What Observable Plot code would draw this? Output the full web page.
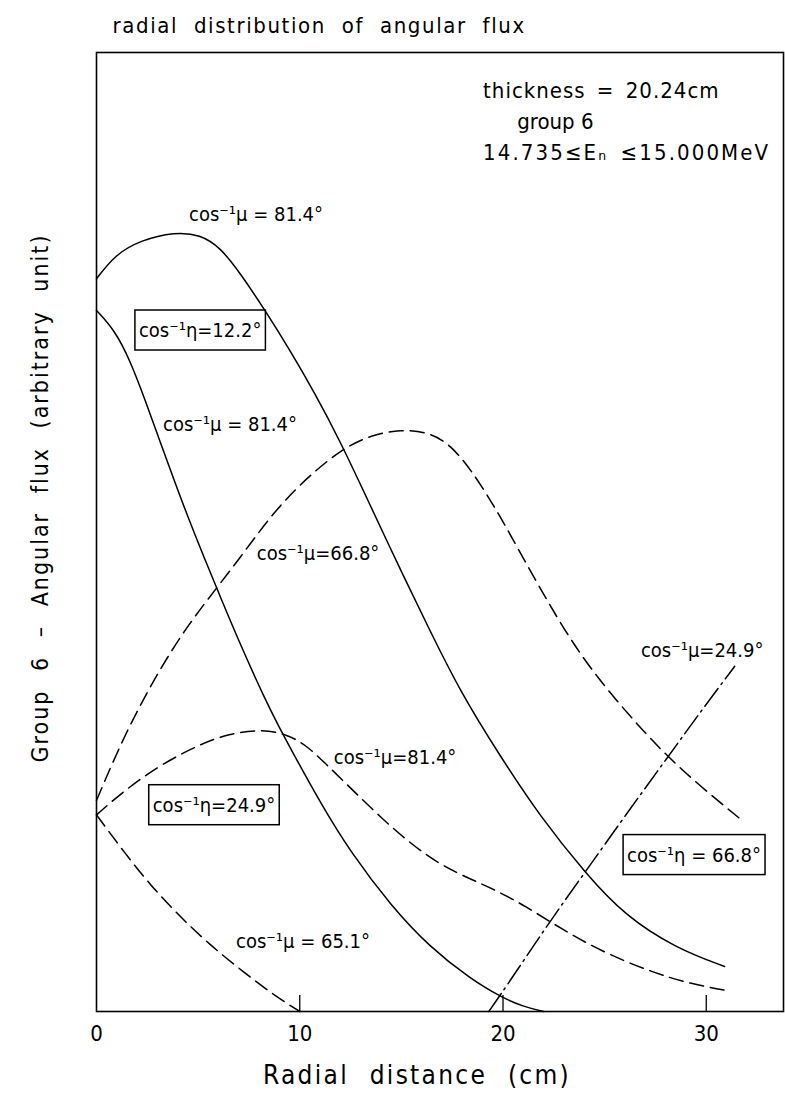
<!DOCTYPE html>
<html><head><meta charset="utf-8">
<script src="https://cdn.jsdelivr.net/npm/d3@7"></script>
<script src="https://cdn.jsdelivr.net/npm/@observablehq/plot@0.6"></script>
<style>body{margin:0;background:#fff;}</style>
</head><body><div id="chart"></div>
<script>
const FONT = "'Liberation Sans Narrow','DejaVu Sans Condensed','DejaVu Sans',sans-serif";

// axis ticks
const xTicks = [0, 10, 20, 30];
const xTickLabels = ["0", "10", "20", "30"];
const titleText = "radial distribution of angular flux";
const xLabelText = "Radial distance (cm)";
const yLabelText = "Group 6 – Angular flux (arbitrary unit)";

// solid, top: cos-1 mu = 81.4 (eta 12.2)
const curveA_x = [0, 0.91, 2.14, 3.87, 5.1, 6.08, 7.07, 8.3, 9.53, 10.76, 12.0, 13.2, 14.3, 15.2, 16.2, 17.9, 19.9, 21.8, 24.1, 26.0, 28.5, 30.9];
const curveA_y = [76.4, 78.9, 80.4, 81.3, 81.0, 79.7, 77.0, 73.1, 68.9, 64.4, 59.4, 54.0, 49.0, 45.0, 40.6, 33.3, 26.5, 20.4, 14.3, 10.0, 6.6, 4.7];
// solid, second: cos-1 mu = 81.4
const curveB_x = [0, 0.91, 1.65, 2.39, 3.13, 3.87, 4.6, 5.34, 6.08, 7.07, 8.3, 9.0, 9.53, 11.0, 12.5, 14.5, 16.4, 18.4, 19.9, 21.0, 22.0];
const curveB_y = [73.1, 71.0, 67.9, 63.8, 59.4, 55.1, 51.0, 47.1, 43.3, 38.3, 32.5, 29.6, 27.5, 21.8, 16.6, 11.0, 6.7, 3.4, 1.5, 0.5, 0];
// dashed big hump: cos-1 mu = 66.8
const curveC_x = [0, 1.4, 3.13, 4.6, 6.08, 7.3, 8.55, 10.0, 12.0, 13.5, 14.95, 16.4, 17.4, 18.4, 19.6, 20.6, 22.3, 23.8, 25.3, 27.0, 28.2, 29.7, 31.6];
const curveC_y = [22.0, 29.0, 35.8, 40.6, 44.6, 48.0, 51.6, 55.0, 58.6, 60.1, 60.7, 60.4, 59.1, 56.6, 52.6, 48.8, 42.3, 37.2, 33.1, 29.0, 26.4, 23.5, 20.2];
// dashed small hump: cos-1 mu = 81.4 (eta 24.9)
const curveD_x = [0, 1.4, 3.13, 5.1, 6.58, 8.05, 9.29, 10.3, 11.25, 12.5, 14.0, 15.4, 16.9, 18.4, 19.6, 21.1, 22.8, 24.8, 27.3, 29.2, 31.2];
const curveD_y = [20.5, 23.1, 25.7, 27.9, 29.0, 29.4, 29.0, 27.8, 25.9, 23.3, 20.2, 17.6, 15.3, 13.8, 12.7, 11.0, 8.7, 6.3, 4.1, 2.9, 2.1];
// dashed falling: cos-1 mu = 65.1
const curveE_x = [0, 1.4, 2.64, 4.1, 5.6, 7.3, 8.8, 10.0];
const curveE_y = [20.5, 16.5, 13.2, 9.9, 6.9, 4.0, 1.6, 0];
// dash-dot rising: cos-1 mu = 24.9 (eta 66.8)
const curveF_x = [19.3, 20.0, 22.3, 24.1, 26.0, 28.2, 29.7, 31.4];
const curveF_y = [0, 2.1, 9.4, 14.7, 20.4, 26.8, 31.2, 36.0];

// curve labels
const labelText = ["cos⁻¹μ = 81.4°", "cos⁻¹μ = 81.4°", "cos⁻¹μ=66.8°", "cos⁻¹μ=81.4°", "cos⁻¹μ = 65.1°", "cos⁻¹μ=24.9°"];
const labelX = [7.85, 6.57, 10.9, 14.69, 10.16, 29.8];
const labelY = [83.1, 61.2, 47.8, 26.5, 7.3, 37.6];
// boxed labels
const boxText = ["cos⁻¹η=12.2°", "cos⁻¹η=24.9°", "cos⁻¹η = 66.8°"];
const boxX = [5.1, 5.78, 29.4];
const boxY = [71.0, 21.5, 16.3];
// notes
const noteText = ["thickness = 20.24cm", "group 6", "14.735≤Eₙ ≤15.000MeV"];
const noteX = [19.02, 20.7, 19.02];
const noteY = [96.0, 92.8, 89.5];

const rows = (xs, ys) => xs.map((x, i) => ({x, y: ys[i]}));
const zipText = (t, xs, ys) => t.map((text, i) => ({text, x: xs[i], y: ys[i]}));

const lineOpts = {x: "x", y: "y", curve: "basis", stroke: "black", strokeWidth: 1.5};
const DASH = "14,7";
const DASHDOT = "22,5,2,5";

const chart = Plot.plot({
  width: 785, height: 1106,
  marginLeft: 96, marginRight: 2, marginTop: 52, marginBottom: 95,
  x: {domain: [0, 33.8]},
  y: {domain: [0, 100], axis: null},
  style: {fontFamily: FONT, background: "white", color: "black"},
  marks: [
    Plot.frame({stroke: "black", strokeWidth: 1.6}),
    Plot.ruleX(xTicks.slice(1), {insetTop: 959 - 16, stroke: "black", strokeWidth: 1.3}),
    Plot.axisX({ticks: xTicks, tickFormat: d => xTickLabels[xTicks.indexOf(d)], tickSize: 0, tickPadding: 14, fontSize: 22, label: null}),
    Plot.line(rows(curveA_x, curveA_y), lineOpts),
    Plot.line(rows(curveB_x, curveB_y), lineOpts),
    Plot.line(rows(curveC_x, curveC_y), {...lineOpts, strokeDasharray: DASH}),
    Plot.line(rows(curveD_x, curveD_y), {...lineOpts, strokeDasharray: DASH}),
    Plot.line(rows(curveE_x, curveE_y), {...lineOpts, strokeDasharray: DASH}),
    Plot.line(rows(curveF_x, curveF_y), {...lineOpts, strokeDasharray: DASHDOT}),
    Plot.text(zipText(labelText, labelX, labelY), {x: "x", y: "y", text: "text", fontSize: 20, fill: "black"}),
    Plot.text(zipText(boxText, boxX, boxY), {x: "x", y: "y", text: "text", fontSize: 20, fill: "black"}),
    Plot.text(zipText(noteText, noteX, noteY), {x: "x", y: "y", text: "text", fontSize: 22, fill: "black", textAnchor: "start"}),
    Plot.text([titleText], {frameAnchor: "top-left", textAnchor: "start", lineAnchor: "middle", dx: 16, dy: -27, fontSize: 22, fill: "black"}),
    Plot.text([xLabelText], {frameAnchor: "bottom", textAnchor: "middle", lineAnchor: "middle", dx: -23, dy: 64, fontSize: 26, fill: "black"}),
    Plot.text([yLabelText], {frameAnchor: "left", textAnchor: "middle", lineAnchor: "middle", rotate: -90, dx: -56, dy: -34, fontSize: 23, fill: "black"})
  ]
});
document.getElementById("chart").appendChild(chart);

// letter / word spacing of the plotter-style lettering
const spacing = new Map([
  [titleText, [1.6, 8]],
  [xLabelText, [2.3, 11]],
  [yLabelText, [2.0, 10]],
  [noteText[0], [1.0, 4]],
  [noteText[2], [2.1, 4]]
]);
const texts = Array.from(chart.querySelectorAll("text"));
for (const t of texts) {
  const s = spacing.get(t.textContent);
  if (s) t.setAttribute("style", `letter-spacing:${s[0]}px;word-spacing:${s[1]}px`);
}
// draw boxes around boxed labels
for (const t of texts) {
  if (!boxText.includes(t.textContent)) continue;
  const b = t.getBBox();
  const r = document.createElementNS("http://www.w3.org/2000/svg", "rect");
  r.setAttribute("x", b.x - 4);
  r.setAttribute("y", b.y - 8);
  r.setAttribute("width", b.width + 8);
  r.setAttribute("height", b.height + 16);
  r.setAttribute("fill", "none");
  r.setAttribute("stroke", "black");
  r.setAttribute("stroke-width", 1.5);
  const tr = t.getAttribute("transform");
  if (tr) r.setAttribute("transform", tr);
  t.parentNode.insertBefore(r, t);
}
</script></body></html>
